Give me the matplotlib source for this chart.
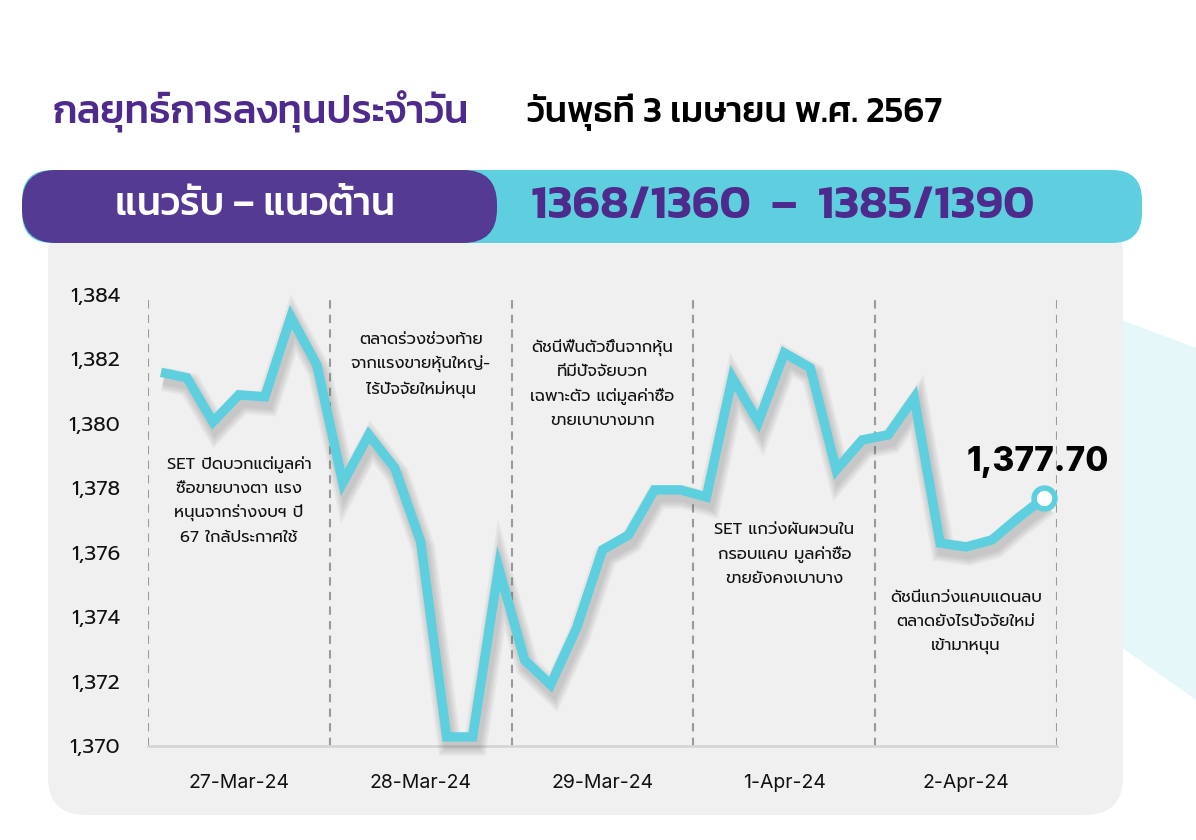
import matplotlib
matplotlib.use('Agg')
import matplotlib.pyplot as plt
import matplotlib.patheffects as pe
from matplotlib.patches import FancyBboxPatch, Polygon
from matplotlib.ticker import FuncFormatter
import numpy as np

# ---------------- data ----------------
dates = ['27-Mar-24', '28-Mar-24', '29-Mar-24', '1-Apr-24', '2-Apr-24']
points_per_day = 7
set_index = [1381.60, 1381.43, 1380.06, 1380.90, 1380.84, 1383.32, 1381.83,
             1378.17, 1379.66, 1378.63, 1376.34, 1370.28, 1370.28, 1375.53,
             1372.67, 1371.90, 1373.66, 1376.09, 1376.55, 1377.95, 1377.95,
             1377.73, 1381.43, 1380.06, 1382.20, 1381.74, 1378.57, 1379.50,
             1379.66, 1380.81, 1376.30, 1376.18, 1376.40, 1377.08, 1377.70]
last_label = '1,377.70'
y_ticks = [1370, 1372, 1374, 1376, 1378, 1380, 1382, 1384]
notes = [
    "SET ปิดบวกแต่มูลค่า\nซื้อขายบางตา แรง\nหนุนจากร่างงบฯ ปี\n67 ใกล้ประกาศใช้",
    "ตลาดร่วงช่วงท้าย\nจากแรงขายหุ้นใหญ่-\nไร้ปัจจัยใหม่หนุน",
    "ดัชนีฟื้นตัวขึ้นจากหุ้น\nที่มีปัจจัยบวก\nเฉพาะตัว แต่มูลค่าซื้อ\nขายเบาบางมาก",
    "SET แกว่งผันผวนใน\nกรอบแคบ มูลค่าซื้อ\nขายยังคงเบาบาง",
    "ดัชนีแกว่งแคบแดนลบ\nตลาดยังไรปัจจัยใหม่\nเข้ามาหนุน",
]
note_values = [1379.0, 1382.85, 1382.65, 1376.95, 1374.85]
title = "กลยุทธ์การลงทุนประจำวัน"
date_text = "วันพุธที่ 3 เมษายน พ.ศ. 2567"
band_label = "แนวรับ – แนวต้าน"
band_values = "1368/1360  –  1385/1390"

# ---------------- style ----------------
PURPLE = '#553a94'
TITLE_PURPLE = '#4e2a8c'
CYAN = '#5ecfde'
PANEL = '#f0f0f0'
THAI = ['Prompt', 'DejaVu Sans']
HEAD = ['Kanit', 'DejaVu Sans']

W, H = 1196, 840
fig = plt.figure(figsize=(W / 100, H / 100), dpi=100)
fig.patch.set_facecolor('white')

bg = fig.add_axes([0, 0, 1, 1])
bg.set_xlim(0, W)
bg.set_ylim(H, 0)
bg.axis('off')

# decorative pale shape at right
bg.add_patch(Polygon([[1100, 312], [1196, 348], [1196, 700], [1100, 632]],
                     closed=True, facecolor='#e6f7f9', edgecolor='none', zorder=0))

# grey panel
bg.add_patch(FancyBboxPatch((48, 215), 1123 - 48, 815 - 215,
                            boxstyle='round,pad=0,rounding_size=38',
                            facecolor=PANEL, edgecolor='none', zorder=1))
# banner
bg.add_patch(FancyBboxPatch((22, 170), 1142 - 22, 73,
                            boxstyle='round,pad=0,rounding_size=30',
                            facecolor=CYAN, edgecolor='none', zorder=2))
bg.add_patch(FancyBboxPatch((22, 170), 497 - 22, 73,
                            boxstyle='round,pad=0,rounding_size=34',
                            facecolor=PURPLE, edgecolor='none', zorder=3))

bg.text(52, 112, title, color=TITLE_PURPLE, fontsize=28.5, family=HEAD,
        fontweight='medium', va='center', ha='left', zorder=4)
bg.text(527, 112, date_text, color='black', fontsize=26, family=HEAD,
        fontweight='medium', va='center', ha='left', zorder=4)
bg.text(255, 206, band_label, color='white', fontsize=28, family=HEAD,
        fontweight='medium', va='center', ha='center', zorder=4)
bg.text(783, 206, band_values, color=TITLE_PURPLE, fontsize=34, family=HEAD,
        fontweight='semibold', va='center', ha='center', zorder=4)

# ---------------- chart ----------------
x0, x1 = 148, 1057
ytop, ybot = 295, 746
ax = fig.add_axes([x0 / W, (H - ybot) / H, (x1 - x0) / W, (ybot - ytop) / H])
ax.set_facecolor('none')
n = len(set_index)
xs = np.arange(n) + 0.5
ax.set_xlim(0, n)
ax.set_ylim(1370, 1384)

for i in range(len(dates) + 1):
    ax.axvline(i * points_per_day, color='#9a9a9a', lw=1.5, ls=(0, (4, 3)), zorder=1)

shadow = [pe.SimpleLineShadow(offset=(2, -5), shadow_color='#555555', alpha=0.07, linewidth=w)
          for w in (17, 14, 11, 8)] + [pe.Normal()]
ax.plot(xs, set_index, color=CYAN, lw=6.8, solid_joinstyle='miter',
        solid_capstyle='butt', zorder=3, path_effects=shadow, clip_on=False)
ax.plot(xs[-1], set_index[-1], 'o', ms=15, mfc='white', mec=CYAN, mew=4,
        zorder=4, clip_on=False)
ax.text(xs[-1] - 0.25, set_index[-1] + 0.62, last_label, fontsize=24, fontweight='heavy',
        family=['Inter', 'DejaVu Sans'], ha='center', va='bottom', color='black', zorder=5)

for i, (txt, yv) in enumerate(zip(notes, note_values)):
    ax.text((i + 0.5) * points_per_day, yv, txt, ha='center', va='top',
            fontsize=11.8, family=THAI, linespacing=1.65, color='#111111', zorder=5)

for s in ('left', 'right', 'top'):
    ax.spines[s].set_visible(False)
ax.spines['bottom'].set_color('#d6d6d6')
ax.spines['bottom'].set_linewidth(2)
ax.spines['bottom'].set_zorder(2)

ax.set_yticks(y_ticks)
ax.yaxis.set_major_formatter(FuncFormatter(lambda v, p: f'{v:,.0f}'))
ax.set_xticks([(i + 0.5) * points_per_day for i in range(len(dates))])
ax.set_xticklabels(dates)
ax.tick_params(axis='both', length=0, colors='#111111')
ax.tick_params(axis='y', pad=20, labelsize=15)
ax.tick_params(axis='x', pad=20, labelsize=14)
for lab in ax.get_yticklabels():
    lab.set_family(THAI)
for lab in ax.get_xticklabels():
    lab.set_family(['Inter', 'DejaVu Sans'])

fig.savefig('out.png', dpi=100, facecolor='white')
